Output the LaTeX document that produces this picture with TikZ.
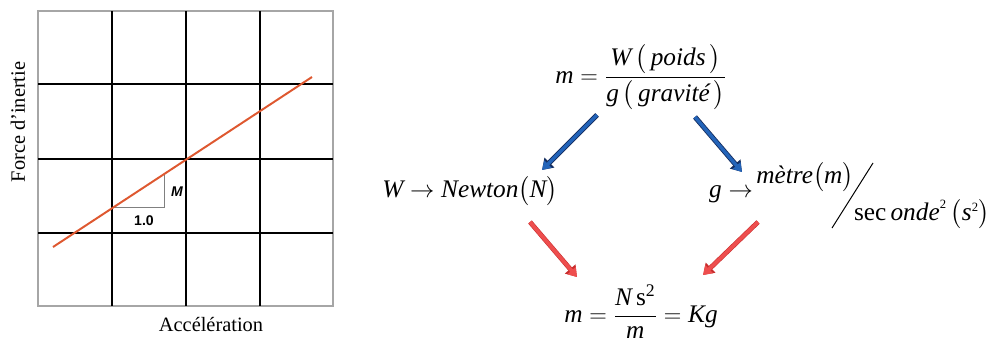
\documentclass[tikz,border=0pt]{standalone}
\usepackage{amsmath}
\usepackage{fontspec}
\setmainfont{Liberation Serif}
\newfontfamily\formfont{Liberation Serif}
\newfontfamily\labelfont{Liberation Sans}
\usetikzlibrary{arrows.meta,calc}
\definecolor{arrowblue}{RGB}{35,100,185}
\definecolor{edgeblue}{RGB}{20,45,95}
\definecolor{arrowred}{RGB}{238,78,78}
\definecolor{edgered}{RGB}{200,45,45}
\definecolor{fitline}{RGB}{222,88,48}

\begin{document}
\begin{tikzpicture}[x=0.025cm, y=-0.025cm,
    gridline/.style={line width=1.7pt},
    formula/.style={inner sep=0pt, font=\formfont\fontsize{18}{22}\selectfont},
    axislabel/.style={inner sep=0pt, font=\fontsize{14.5}{17}\selectfont},
    bluearrow/.style={draw=arrowblue, line width=2.4pt, -{Triangle[width=7pt,length=6pt]},
        preaction={draw=edgeblue, line width=3.6pt, -{Triangle[width=9.5pt,length=7.5pt]}}},
    redarrow/.style={draw=arrowred, line width=2.6pt, -{Triangle[width=7.5pt,length=6pt]},
        preaction={draw=edgered, line width=3.4pt, -{Triangle[width=9.5pt,length=7.5pt]}}}]
\useasboundingbox (0,0) rectangle (991,338);

\draw[gray!70, line width=0.8pt] (38,11) rectangle (333,306);
\draw[gridline] (112,11) -- (112,306);
\draw[gridline] (186,11) -- (186,306);
\draw[gridline] (260,11) -- (260,306);
\draw[gridline] (38,84) -- (333,84);
\draw[gridline] (38,159) -- (333,159);
\draw[gridline] (38,233) -- (333,233);
\draw[gray, line width=0.6pt] (113,207) -- (164,207) -- (164,175);
\draw[fitline, line width=1.4pt] (53,247) -- (312,77);
\node[font=\labelfont\bfseries\itshape\fontsize{10}{12}\selectfont] (M0) at (177,192) {M};
\node[font=\labelfont\bfseries\fontsize{10}{12}\selectfont] (U0) at (144,221) {1.0};
\node[axislabel, rotate=90] (Y0) at (18,122) {Force d'inertie};
\node[axislabel] (X0) at (211,325) {Accélération};

\node[formula] (M1) at (641,77) {$\textit{m}=\dfrac{\textit{W}\,\bigl(\,\textit{poids}\,\bigr)}{\textit{g}\,\bigl(\,\textit{gravité}\,\bigr)}$};
\node[formula, anchor=base] (W1) at (470,197) {$\textit{W}\rightarrow\textit{Newton}\bigl(\textit{N}\bigr)$};
\node[formula, anchor=base] (G1) at (731,197) {$\textit{g}\rightarrow$};
\node[formula, anchor=base] (R1) at (805,183) {$\textit{mètre}\bigl(\textit{m}\bigr)$};
\node[formula, anchor=base] (S1) at (922,220) {sec\,$\textit{onde}^{\scriptscriptstyle\textrm{2}}\,\bigl(\textit{s}^{\scriptscriptstyle\textrm{2}}\bigr)$};
\node[formula] (K1) at (641,312) {$\textit{m}=\dfrac{\textit{N}\,\textrm{s}^{\textrm{2}}}{\textit{m}}=\textit{Kg}$};

\draw[line width=0.7pt] ($(S1.base)+(-90,8)$) -- ($(R1.base)+(68,-20)$);

\draw[bluearrow] ($(M1)+(-44,38)$) -- ($(W1.base)+(72,-27)$);
\draw[bluearrow] ($(M1)+(54,40)$) -- ($(G1.base)+(11,-25)$);
\draw[redarrow] ($(W1.base)+(60,25)$) -- ($(K1)+(-64,-35)$);
\draw[redarrow] ($(G1.base)+(27,25)$) -- ($(K1)+(62,-37)$);

\end{tikzpicture}
\end{document}
